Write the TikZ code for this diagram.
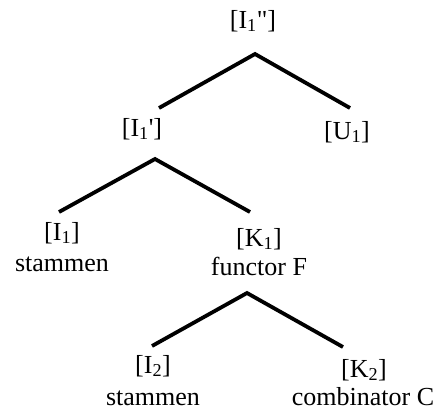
\documentclass[tikz,border=0pt]{standalone}
\usepackage{fontspec}
\newfontfamily\treefont{Liberation Serif}
\usetikzlibrary{calc}

\begin{document}
\begin{tikzpicture}[
    x=1bp, y=-1bp,
    label/.style={inner sep=0pt, anchor=base, font=\treefont\fontsize{26bp}{30bp}\selectfont},
    branch/.style={line width=3.8bp}
]
    \useasboundingbox (0,0) rectangle (439,410);

    \node[label] (top) at (253,28) {[I\textsubscript{1}"]};
    \node[label] (i1p) at (142,136) {[I\textsubscript{1}']};
    \node[label] (u1) at (347,139) {[U\textsubscript{1}]};
    \node[label] (i1) at (62,240) {[I\textsubscript{1}]};
    \node[label] (i1txt) at (62,271) {stammen};
    \node[label] (k1) at (259,246) {[K\textsubscript{1}]};
    \node[label] (k1txt) at (259,275) {functor F};
    \node[label] (i2) at (153,373) {[I\textsubscript{2}]};
    \node[label] (i2txt) at (153,405) {stammen};
    \node[label] (k2) at (364,377) {[K\textsubscript{2}]};
    \node[label] (k2txt) at (363,405) {combinator C};

    \draw[branch] ($(i1p.base)+(17,-28)$) -- ($(top.base)+(2,26)$) -- ($(u1.base)+(3,-31)$);
    \draw[branch] ($(i1.base)+(-3,-28)$) -- ($(i1p.base)+(13,23)$) -- ($(k1.base)+(-9,-34)$);
    \draw[branch] ($(i2.base)+(-1,-27)$) -- ($(k1txt.base)+(-12,18)$) -- ($(k2.base)+(-21,-30)$);
\end{tikzpicture}
\end{document}
